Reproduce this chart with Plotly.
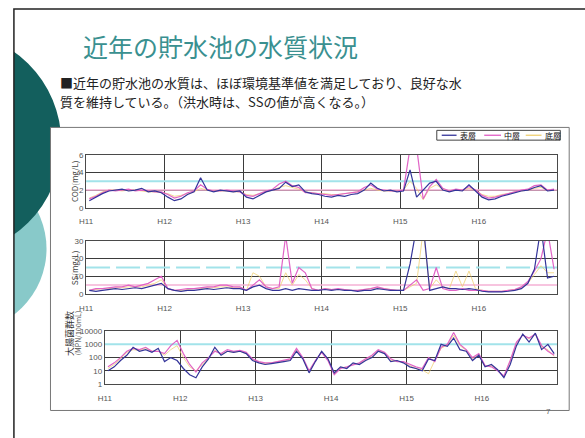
import plotly.graph_objects as go

W, H = 585, 438

# ---- data -------------------------------------------------------------
years = ["H11", "H12", "H13", "H14", "H15", "H16"]
layers = ["表層", "中層", "底層"]
layer_colors = ["#34349a", "#e05cc4", "#f0cf70"]

# COD (mg/L), monthly, H11-H16
cod_surface = [0.8, 1.2, 1.6, 1.9, 2.0, 2.1, 1.9, 2.0, 2.2, 1.8, 1.9, 1.7,
               1.2, 0.8, 1.0, 1.5, 1.8, 3.4, 2.0, 1.8, 2.0, 1.9, 1.8, 1.9,
               1.2, 1.0, 1.4, 1.8, 2.0, 2.2, 2.9, 2.4, 2.6, 1.8, 1.6, 1.5,
               1.3, 1.2, 1.4, 1.3, 1.5, 1.6, 2.0, 2.8, 2.2, 1.9, 2.0, 1.8,
               1.9, 4.3, 1.2, 2.0, 2.8, 3.0, 2.0, 1.8, 2.0, 1.9, 2.6, 1.9,
               1.2, 0.9, 1.0, 1.3, 1.5, 1.7, 1.9, 2.0, 2.3, 2.5, 1.9, 2.0]
cod_middle = [1.0, 1.3, 1.7, 2.0, 1.9, 2.0, 2.1, 1.9, 2.0, 1.9, 1.8, 1.8,
              1.5, 1.1, 1.3, 1.7, 1.9, 2.6, 2.1, 1.9, 1.9, 2.0, 1.9, 1.8,
              1.4, 1.3, 1.6, 1.9, 2.1, 2.7, 3.0, 2.5, 2.3, 1.7, 1.7, 1.6,
              1.5, 1.4, 1.5, 1.6, 1.7, 1.8, 2.3, 2.6, 2.1, 2.0, 1.9, 1.9,
              2.0, 6.8, 6.9, 1.0, 2.4, 3.2, 2.2, 1.9, 2.1, 2.0, 2.4, 2.0,
              1.4, 1.1, 1.2, 1.4, 1.6, 1.8, 2.0, 2.1, 2.5, 2.6, 2.0, 2.1]
cod_bottom = [1.1, 1.4, 1.8, 2.0, 2.0, 1.9, 2.0, 2.0, 1.9, 1.8, 1.8, 1.7,
              1.6, 1.3, 1.4, 1.6, 1.8, 2.2, 2.0, 1.9, 1.9, 1.9, 1.8, 1.8,
              1.5, 1.4, 1.6, 1.8, 2.0, 2.3, 2.5, 2.3, 2.1, 1.8, 1.7, 1.6,
              1.6, 1.5, 1.5, 1.6, 1.7, 1.8, 2.0, 2.2, 2.0, 1.9, 1.9, 1.9,
              2.0, 3.0, 2.2, 0.9, 2.2, 2.6, 2.1, 1.9, 2.0, 2.0, 2.2, 2.0,
              1.5, 1.3, 1.3, 1.5, 1.6, 1.8, 1.9, 2.0, 2.2, 2.3, 2.0, 2.0]

# SS (mg/L)
ss_surface = [2, 1.5, 2, 2.5, 3, 2.5, 3, 3.5, 3, 4, 5, 6,
              3, 2, 1.5, 2, 2, 2.5, 3, 2.5, 3, 3.5, 3, 3,
              2, 4, 5, 3, 2, 2, 3, 2, 3, 2.5, 2, 2,
              2.5, 2, 2.5, 2, 2, 1.5, 2, 2, 3, 2.5, 2, 2,
              2, 17, 38, 40, 2, 3, 4, 3, 3, 2.5, 3, 2.5,
              1.5, 1.2, 1.0, 1.2, 1.5, 2, 3, 6, 14, 38, 9, 10]
ss_middle = [2, 3, 3, 3.5, 4, 4, 5, 4, 5, 6, 8, 10,
             3, 2, 2.5, 3, 3, 3.5, 4, 4, 5, 5, 4, 4,
             2, 5, 8, 4, 3, 4, 33, 6, 15, 12, 3, 2,
             3, 2.5, 3, 2.5, 2, 2, 2.5, 3, 4, 3, 2.5, 2,
             2, 5, 8, 2, 3, 15, 3, 2, 2, 3, 2, 2,
             2, 1.5, 1.5, 1.5, 2, 2.5, 4, 7, 13, 20, 36, 14]
ss_bottom = [2, 2.5, 3, 3, 3.5, 3.5, 4, 4, 4, 5, 6, 8,
             3, 2, 2, 2.5, 3, 3, 3.5, 3.5, 4, 4, 3.5, 3.5,
             2, 12, 10, 4, 3, 3, 12, 5, 11, 8, 3, 2,
             3, 2.5, 2.5, 2.5, 2, 2, 2.5, 3, 3.5, 3, 2.5, 2,
             2, 4, 6, 36, 3, 8, 4, 3, 13, 4, 13, 3,
             2, 1.5, 1.5, 1.5, 2, 2.5, 3.5, 6, 11, 16, 12, 12]

# Coliform count (MPN/100mL)
coli_surface = [10, 20, 60, 150, 600, 300, 400, 250, 500, 50, 100, 60,
                15, 5, 3, 20, 80, 600, 150, 300, 250, 300, 200, 60,
                40, 30, 35, 40, 50, 60, 300, 80, 7, 50, 300, 80,
                7, 20, 15, 40, 30, 60, 100, 300, 200, 50, 60, 40,
                20, 15, 10, 80, 60, 1000, 700, 3000, 400, 300, 60, 150,
                20, 30, 12, 3, 30, 800, 6000, 1500, 7000, 400, 1000, 200]
coli_middle = [20, 40, 100, 300, 500, 400, 600, 300, 300, 200, 800, 2000,
               200, 30, 8, 40, 100, 300, 200, 400, 300, 350, 250, 80,
               50, 40, 40, 50, 60, 80, 500, 100, 10, 60, 250, 60,
               5, 15, 20, 30, 40, 80, 150, 400, 250, 80, 50, 50,
               30, 20, 15, 100, 50, 600, 1000, 8000, 1000, 400, 100, 200,
               25, 20, 10, 4, 60, 1500, 5000, 3000, 6000, 800, 300, 150]
coli_bottom = [15, 30, 80, 250, 400, 350, 500, 300, 300, 150, 400, 800,
               100, 20, 10, 30, 90, 350, 180, 300, 250, 300, 200, 70,
               45, 35, 40, 45, 55, 70, 400, 90, 9, 55, 280, 70,
               6, 18, 18, 35, 35, 70, 120, 350, 220, 60, 55, 45,
               25, 15, 12, 6, 60, 500, 900, 5000, 800, 350, 80, 180,
               22, 25, 12, 3.5, 55, 1200, 5500, 2500, 6500, 600, 400, 120]

# reference levels drawn across each panel
cod_refs = {"cyan": 3, "pink": 2}
ss_refs = {"cyan": 15, "pink": 5}
coli_refs = {"cyan": 1000}

cod_ticks = [0, 2, 4, 6]
ss_ticks = [0, 10, 20, 30]
coli_ticks = [1, 10, 100, 1000, 10000]
coli_ticktext = ["1", "10", "100", "1000", "10000"]

months = [i + 0.5 for i in range(len(cod_surface))]
year_ticks = [12 * i for i in range(len(years))]


def px(x):
    return x / W


def py(y):
    return 1 - y / H


fig = go.Figure()

panels = [
    ("x", "y", [cod_surface, cod_middle, cod_bottom], cod_refs),
    ("x2", "y2", [ss_surface, ss_middle, ss_bottom], ss_refs),
    ("x3", "y3", [coli_surface, coli_middle, coli_bottom], coli_refs),
]
ref_styles = {"cyan": dict(color="#a3e3ea", width=2),
              "pink": dict(color="#f5b0d4", width=1.5)}
line_widths = [1.2, 1.2, 1.0]
line_alpha = [1.0, 0.95, 0.75]

for xa, ya, series, refs in panels:
    for key, level in refs.items():
        style = dict(ref_styles[key])
        if xa == "x2" and key == "cyan":
            style["dash"] = "24px,6px"
        fig.add_trace(go.Scatter(x=[0, 72], y=[level, level], mode="lines",
                                 line=style, xaxis=xa, yaxis=ya,
                                 hoverinfo="skip", showlegend=False))
    for k in reversed(range(len(layers))):
        fig.add_trace(go.Scatter(x=months, y=series[k], mode="lines",
                                 name=layers[k], opacity=line_alpha[k],
                                 line=dict(color=layer_colors[k],
                                           width=line_widths[k]),
                                 xaxis=xa, yaxis=ya, showlegend=False))

grid_col = "#3c3c3c"
frame_col = "#4a4a4a"
tick_font = dict(family="Liberation Sans, Arial", size=8, color="#555")


def xaxis_cfg(left):
    return dict(domain=[px(left), px(557)], range=[0, 72],
                tickvals=year_ticks, ticktext=years, showgrid=True,
                gridcolor=grid_col, gridwidth=1, zeroline=False,
                showline=True, mirror=True, linecolor=frame_col, linewidth=1,
                ticks="outside", ticklen=6, tickcolor="rgba(0,0,0,0)",
                tickfont=tick_font, fixedrange=True)


def yaxis_cfg(top, bottom, **kw):
    d = dict(domain=[py(bottom), py(top)], showgrid=True, gridcolor=grid_col,
             gridwidth=1, zeroline=False, showline=True, mirror=True,
             linecolor=frame_col, linewidth=1, ticks="", tickfont=tick_font,
             fixedrange=True)
    d.update(kw)
    return d


shapes = [
    # decorative circles on the slide's left edge
    dict(type="circle", xref="paper", yref="paper", layer="below",
         x0=px(-130), x1=px(40), y0=py(165), y1=py(335),
         fillcolor="#88c9c9", line=dict(width=0)),
    dict(type="circle", xref="paper", yref="paper", layer="below",
         x0=px(-175), x1=px(55), y0=py(27), y1=py(257),
         fillcolor="#135f5d", line=dict(width=0)),
    dict(type="rect", xref="paper", yref="paper", layer="below",
         x0=px(-20), x1=px(7), y0=py(470), y1=py(-20),
         fillcolor="white", line=dict(width=0)),
    # slide frame
    dict(type="rect", xref="paper", yref="paper", layer="below",
         x0=px(7), x1=px(600), y0=py(470), y1=py(5),
         line=dict(color="#222", width=1.5)),
    # chart frame
    dict(type="rect", xref="paper", yref="paper", layer="below",
         x0=px(44), x1=px(569), y0=py(415), y1=py(126),
         fillcolor="white", line=dict(color="#777", width=1)),
    # legend frame
    dict(type="rect", xref="paper", yref="paper", layer="below",
         x0=px(435), x1=px(560), y0=py(139), y1=py(129),
         fillcolor="white", line=dict(color="#444", width=1)),
]

body_lines = ["■近年の貯水池の水質は、ほぼ環境基準値を満足しており、良好な水",
              "質を維持している。（洪水時は、SSの値が高くなる。）"]
body_y = [80.5, 99.5]

annotations = [
    dict(text="近年の貯水池の水質状況", x=px(75), y=py(43), xref="paper",
         yref="paper", xanchor="left", yanchor="middle", showarrow=False,
         font=dict(family="Noto Sans CJK JP", size=25, color="#3a9090")),
    dict(text="COD(mg/L)", x=px(61), y=py(181), xref="paper", yref="paper",
         textangle=-90, showarrow=False,
         font=dict(family="Noto Sans CJK JP", size=8, color="#444")),
    dict(text="SS(mg/L)", x=px(61), y=py(269), xref="paper", yref="paper",
         textangle=-90, showarrow=False,
         font=dict(family="Noto Sans CJK JP", size=8, color="#444")),
    dict(text="大腸菌群数", x=px(54), y=py(361), xref="paper", yref="paper",
         textangle=-90, showarrow=False,
         font=dict(family="Noto Sans CJK JP", size=9, color="#333")),
    dict(text="(MPN/100mL)", x=px(65), y=py(361), xref="paper", yref="paper",
         textangle=-90, showarrow=False,
         font=dict(family="Noto Sans CJK JP", size=7, color="#444")),
    dict(text="7", x=px(553), y=py(423), xref="paper", yref="paper",
         showarrow=False, font=dict(family="Liberation Sans", size=8,
                                    color="#666")),
]
for line, yy in zip(body_lines, body_y):
    annotations.append(dict(text=line, x=px(52), y=py(yy), xref="paper",
                            yref="paper", xanchor="left", yanchor="middle",
                            showarrow=False,
                            font=dict(family="Noto Sans CJK JP", size=13,
                                      color="#222")))

# legend entries
legend_pos = [(440, 455), (483, 500), (525, 541)]
for (lx0, lx1), name, col in zip(legend_pos, layers, layer_colors):
    shapes.append(dict(type="line", xref="paper", yref="paper",
                       x0=px(lx0), x1=px(lx1), y0=py(134), y1=py(134),
                       line=dict(color=col, width=1.3)))
    annotations.append(dict(text=name, x=px(lx1 + 1), y=py(134),
                            xref="paper", yref="paper", xanchor="left",
                            yanchor="middle", showarrow=False,
                            font=dict(family="Noto Sans CJK JP", size=8,
                                      color="#111")))

fig.update_layout(
    width=W, height=H, margin=dict(l=0, r=0, t=0, b=0),
    paper_bgcolor="white", plot_bgcolor="rgba(0,0,0,0)",
    showlegend=False, shapes=shapes, annotations=annotations,
    xaxis=xaxis_cfg(80) | dict(anchor="y"),
    yaxis=yaxis_cfg(154, 208, range=[0, 6], tickvals=cod_ticks, anchor="x"),
    xaxis2=xaxis_cfg(80) | dict(anchor="y2"),
    yaxis2=yaxis_cfg(242, 296, range=[0, 30], tickvals=ss_ticks,
                     anchor="x2"),
    xaxis3=xaxis_cfg(99) | dict(anchor="y3"),
    yaxis3=yaxis_cfg(334, 388, type="log", range=[0, 4],
                     tickvals=coli_ticks, ticktext=coli_ticktext,
                     anchor="x3"),
)

fig.write_html("out.html")
